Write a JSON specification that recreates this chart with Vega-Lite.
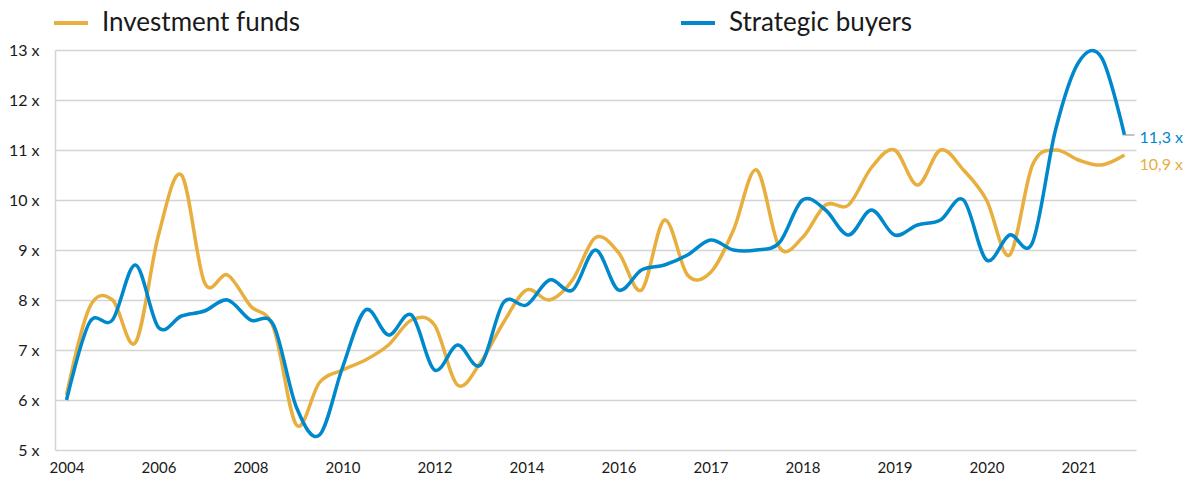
{
  "$schema": "https://vega.github.io/schema/vega-lite/v6.json",
  "width": 1081,
  "height": 400,
  "autosize": {"type": "none"},
  "padding": {"left": 55, "top": 50, "right": 64, "bottom": 39},
  "background": "#ffffff",
  "config": {
    "view": {"stroke": null},
    "font": "Lato"
  },
  "data": {
    "values": [
      {"period": "2004-H1", "Investment funds": 6.1, "Strategic buyers": 6.0},
      {"period": "2004-H2", "Investment funds": 7.85, "Strategic buyers": 7.55},
      {"period": "2005-H1", "Investment funds": 8.0, "Strategic buyers": 7.6},
      {"period": "2005-H2", "Investment funds": 7.15, "Strategic buyers": 8.7},
      {"period": "2006-H1", "Investment funds": 9.3, "Strategic buyers": 7.45},
      {"period": "2006-H2", "Investment funds": 10.5, "Strategic buyers": 7.68},
      {"period": "2007-H1", "Investment funds": 8.35, "Strategic buyers": 7.78},
      {"period": "2007-H2", "Investment funds": 8.5, "Strategic buyers": 8.0},
      {"period": "2008-H1", "Investment funds": 7.88, "Strategic buyers": 7.6},
      {"period": "2008-H2", "Investment funds": 7.45, "Strategic buyers": 7.5},
      {"period": "2009-H1", "Investment funds": 5.5, "Strategic buyers": 5.85},
      {"period": "2009-H2", "Investment funds": 6.35, "Strategic buyers": 5.3},
      {"period": "2010-H1", "Investment funds": 6.6, "Strategic buyers": 6.65},
      {"period": "2010-H2", "Investment funds": 6.8, "Strategic buyers": 7.8},
      {"period": "2011-H1", "Investment funds": 7.1, "Strategic buyers": 7.3},
      {"period": "2011-H2", "Investment funds": 7.6, "Strategic buyers": 7.7},
      {"period": "2012-H1", "Investment funds": 7.5, "Strategic buyers": 6.6},
      {"period": "2012-H2", "Investment funds": 6.3, "Strategic buyers": 7.1},
      {"period": "2013-H1", "Investment funds": 6.75, "Strategic buyers": 6.7},
      {"period": "2013-H2", "Investment funds": 7.55, "Strategic buyers": 7.95},
      {"period": "2014-H1", "Investment funds": 8.2, "Strategic buyers": 7.9},
      {"period": "2014-H2", "Investment funds": 8.0, "Strategic buyers": 8.4},
      {"period": "2015-H1", "Investment funds": 8.4, "Strategic buyers": 8.2},
      {"period": "2015-H2", "Investment funds": 9.25, "Strategic buyers": 9.0},
      {"period": "2016-Q1", "Investment funds": 8.95, "Strategic buyers": 8.2},
      {"period": "2016-Q2", "Investment funds": 8.2, "Strategic buyers": 8.6},
      {"period": "2016-Q3", "Investment funds": 9.6, "Strategic buyers": 8.7},
      {"period": "2016-Q4", "Investment funds": 8.5, "Strategic buyers": 8.9},
      {"period": "2017-Q1", "Investment funds": 8.55, "Strategic buyers": 9.2},
      {"period": "2017-Q2", "Investment funds": 9.4, "Strategic buyers": 9.0},
      {"period": "2017-Q3", "Investment funds": 10.6, "Strategic buyers": 9.0},
      {"period": "2017-Q4", "Investment funds": 9.05, "Strategic buyers": 9.15},
      {"period": "2018-Q1", "Investment funds": 9.25, "Strategic buyers": 10.0},
      {"period": "2018-Q2", "Investment funds": 9.9, "Strategic buyers": 9.8},
      {"period": "2018-Q3", "Investment funds": 9.9, "Strategic buyers": 9.3},
      {"period": "2018-Q4", "Investment funds": 10.65, "Strategic buyers": 9.8},
      {"period": "2019-Q1", "Investment funds": 11.0, "Strategic buyers": 9.3},
      {"period": "2019-Q2", "Investment funds": 10.3, "Strategic buyers": 9.5},
      {"period": "2019-Q3", "Investment funds": 11.0, "Strategic buyers": 9.6},
      {"period": "2019-Q4", "Investment funds": 10.6, "Strategic buyers": 10.0},
      {"period": "2020-Q1", "Investment funds": 10.0, "Strategic buyers": 8.8},
      {"period": "2020-Q2", "Investment funds": 8.9, "Strategic buyers": 9.3},
      {"period": "2020-Q3", "Investment funds": 10.7, "Strategic buyers": 9.15},
      {"period": "2020-Q4", "Investment funds": 11.0, "Strategic buyers": 11.4},
      {"period": "2021-Q1", "Investment funds": 10.8, "Strategic buyers": 12.75},
      {"period": "2021-Q2", "Investment funds": 10.7, "Strategic buyers": 12.85},
      {"period": "2021-Q3", "Investment funds": 10.9, "Strategic buyers": 11.3}
    ]
  },
  "transform": [
    {"fold": ["Investment funds", "Strategic buyers"], "as": ["series", "value"]}
  ],
  "encoding": {
    "x": {
      "field": "period",
      "type": "ordinal",
      "sort": null,
      "scale": {"type": "point", "padding": 0.5},
      "axis": {
        "title": null,
        "values": ["2004-H1", "2006-H1", "2008-H1", "2010-H1", "2012-H1", "2014-H1", "2016-Q1", "2017-Q1", "2018-Q1", "2019-Q1", "2020-Q1", "2021-Q1"],
        "labelExpr": "substring(datum.value, 0, 4)",
        "labelAngle": 0,
        "labelFontSize": 15,
        "labelColor": "#1a1a1a",
        "labelPadding": 10,
        "ticks": false,
        "domain": false,
        "grid": false
      }
    },
    "y": {
      "field": "value",
      "type": "quantitative",
      "scale": {"domain": [5, 13], "nice": false, "zero": false},
      "axis": {
        "title": null,
        "values": [5, 6, 7, 8, 9, 10, 11, 12, 13],
        "labelExpr": "datum.value + ' x'",
        "labelFontSize": 16,
        "labelColor": "#1a1a1a",
        "labelPadding": 16,
        "ticks": false,
        "domain": true,
        "domainColor": "#d4d4d4",
        "domainWidth": 1.5,
        "grid": true,
        "gridColor": "#d4d4d4",
        "gridWidth": 1.5
      }
    }
  },
  "layer": [
    {
      "mark": {"type": "line", "interpolate": "cardinal", "strokeWidth": 3.5},
      "encoding": {
        "color": {
          "field": "series",
          "type": "nominal",
          "scale": {"domain": ["Investment funds", "Strategic buyers"], "range": ["#E8AE3E", "#0088CC"]},
          "legend": {
            "title": null,
            "orient": "none",
            "direction": "horizontal",
            "legendX": -3,
            "legendY": -46,
            "symbolType": "stroke",
            "symbolSize": 1156,
            "symbolStrokeWidth": 4,
            "labelFontSize": 26,
            "labelColor": "#1a1a1a",
            "labelLimit": 500,
            "labelOffset": 12,
            "columnPadding": 372
          }
        }
      }
    },
    {
      "transform": [
        {"filter": "datum.period == '2021-Q3' && datum.series == 'Strategic buyers'"}
      ],
      "mark": {"type": "rule", "color": "#9a9a9a", "strokeWidth": 1.2, "xOffset": 0, "x2Offset": 10},
      "encoding": {
        "x2": {"field": "period"},
        "y2": {"field": "value"}
      }
    },
    {
      "transform": [
        {"filter": "datum.period == '2021-Q3' && datum.series == 'Strategic buyers'"},
        {"calculate": "replace(format(datum.value, '.1f'), '.', ',') + ' x'", "as": "label"}
      ],
      "mark": {"type": "text", "align": "left", "baseline": "middle", "dx": 15, "dy": 3, "fontSize": 16, "color": "#0088CC"},
      "encoding": {"text": {"field": "label"}}
    },
    {
      "transform": [
        {"filter": "datum.period == '2021-Q3' && datum.series == 'Investment funds'"},
        {"calculate": "replace(format(datum.value, '.1f'), '.', ',') + ' x'", "as": "label"}
      ],
      "mark": {"type": "text", "align": "left", "baseline": "middle", "dx": 15, "dy": 10, "fontSize": 16, "color": "#E8AE3E"},
      "encoding": {"text": {"field": "label"}}
    }
  ]
}
